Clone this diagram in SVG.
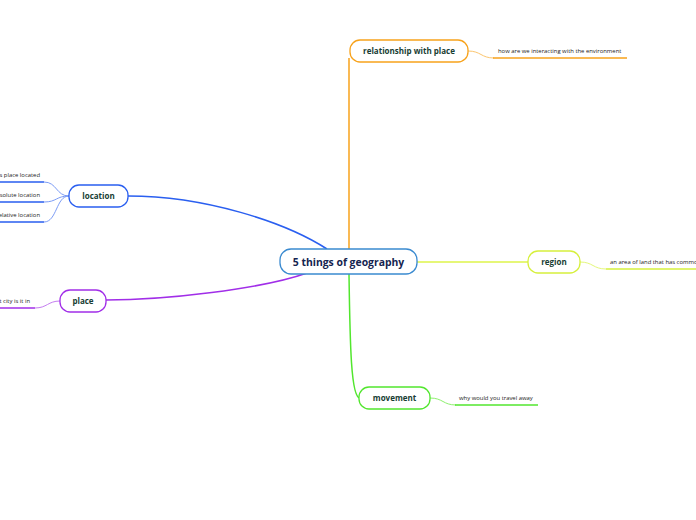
<svg xmlns="http://www.w3.org/2000/svg" width="696" height="520" viewBox="0 0 696 520">
<style>
.node{fill:#fff;stroke-width:1.3}
.t{font-family:"Open Sans","DejaVu Sans",sans-serif;font-weight:bold;font-size:8px;fill:#173d33;text-anchor:middle}
.c{font-family:"Open Sans","DejaVu Sans",sans-serif;font-weight:bold;font-size:10.4px;fill:#14244f;text-anchor:middle}
.l{font-family:"Open Sans","DejaVu Sans",sans-serif;font-size:5.9px;fill:#222}
.e{text-anchor:end}
.conn{fill:none}
</style>
<rect width="696" height="520" fill="#fff"/>
<g id="connectors" class="conn">
<path d="M327,249 C285,222 205,196 128,196" stroke="#2a5ff0" stroke-width="1.5"/>
<path d="M307,273 C262,289 165,300 106,300" stroke="#a12ee8" stroke-width="1.5"/>
<path d="M349,249 L349,58" stroke="#f7a21b" stroke-width="1.5"/>
<path d="M349,274 C350,345 351,398 360,398" stroke="#52e62e" stroke-width="1.5"/>
<path d="M417,262 L528,262" stroke="#def54a" stroke-width="1.5"/>
<path d="M468,51 C481,51 481,58 494,58" stroke="#fbc56e" stroke-width="1"/>
<path d="M493,58 L627,58" stroke="#f7a21b" stroke-width="1.6"/>
<path d="M580,262 C593,262 593,269 606,269" stroke="#e4f77a" stroke-width="1"/>
<path d="M606,269 L696,269" stroke="#d6f03c" stroke-width="1.6"/>
<path d="M430,398 C443,398 443,405 456,405" stroke="#8df06e" stroke-width="1"/>
<path d="M455,405 L538,405" stroke="#52e62e" stroke-width="1.6"/>
<path d="M69,196 C56,196 57,182 44,182" stroke="#7c9cf5" stroke-width="1"/>
<path d="M69,196 C56,196 57,202 44,202" stroke="#7c9cf5" stroke-width="1"/>
<path d="M69,196 C56,196 57,222 44,222" stroke="#7c9cf5" stroke-width="1"/>
<path d="M0,182 L44,182 M0,202 L44,202 M0,222 L44,222" stroke="#2a5ff0" stroke-width="1.6"/>
<path d="M60,301 C48,301 47,308 35,308" stroke="#c47cf0" stroke-width="1"/>
<path d="M0,308 L35,308" stroke="#a12ee8" stroke-width="1.6"/>
</g>
<g id="central"><rect class="node" x="280" y="249" width="137" height="25" rx="11" stroke="#3a8ad0"/><text class="c" x="348.5" y="265.5">5 things of geography</text></g>
<g id="location"><rect class="node" x="69" y="185" width="59" height="22" rx="10" stroke="#2a5ff0"/><text class="t" x="98.5" y="199">location</text></g>
<g id="place"><rect class="node" x="60" y="290" width="46" height="22" rx="10" stroke="#a12ee8"/><text class="t" x="83" y="304">place</text></g>
<g id="relationship"><rect class="node" x="350" y="40" width="118" height="22" rx="10" stroke="#f7a21b"/><text class="t" x="409" y="54">relationship with place</text></g>
<g id="region"><rect class="node" x="528" y="251" width="52" height="22" rx="10" stroke="#d6f03c"/><text class="t" x="554" y="265">region</text></g>
<g id="movement"><rect class="node" x="359" y="387" width="71" height="22" rx="10" stroke="#52e62e"/><text class="t" x="394.5" y="401">movement</text></g>
<g id="leaves">
<text class="l" x="498" y="53">how are we interacting with the environment</text>
<text class="l" x="610" y="264">an area of land that has common features</text>
<text class="l" x="459" y="400">why would you travel away</text>
<text class="l e" x="40" y="177">where is place located</text>
<text class="l e" x="40" y="197">absolute location</text>
<text class="l e" x="40" y="217">relative location</text>
<text class="l e" x="30" y="303">what city is it in</text>
</g>
</svg>
